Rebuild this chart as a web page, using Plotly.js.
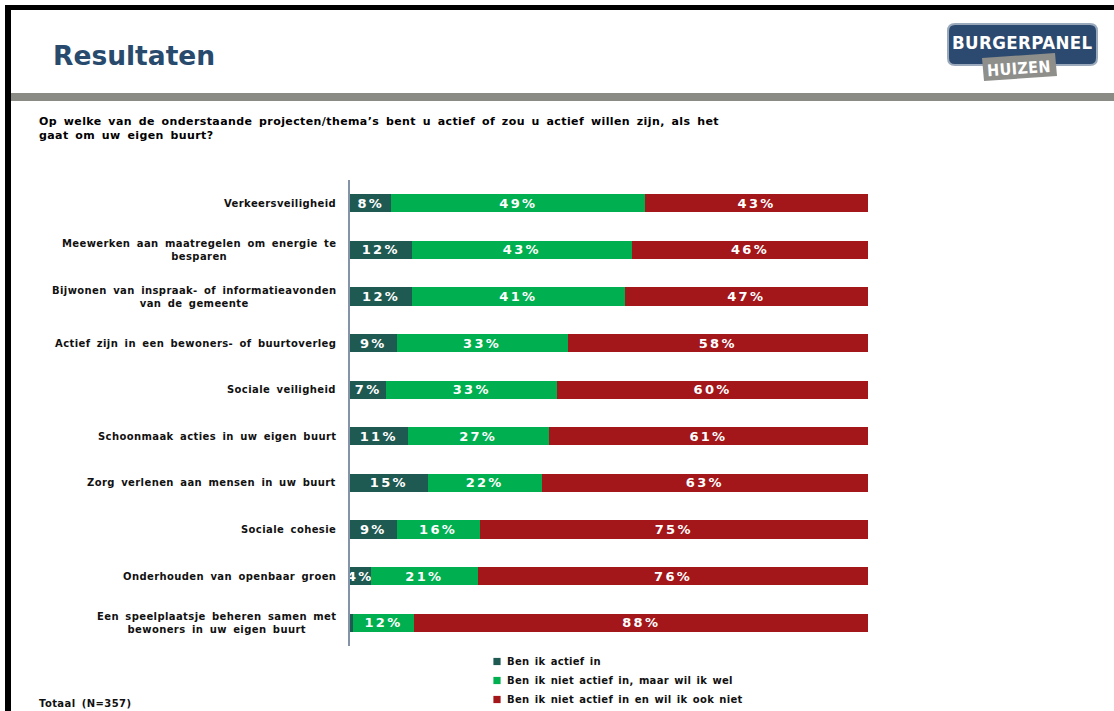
<!DOCTYPE html>
<html>
<head>
<meta charset="utf-8">
<script src="https://cdn.plot.ly/plotly-3.0.1.min.js"></script>
<style>
  html, body { margin: 0; padding: 0; background: #fff; }
  #chart { width: 1114px; height: 711px; }
  text.annotation-text { letter-spacing: 0.4px; word-spacing: 2.5px; }
  text.legendtext { letter-spacing: 0.3px; word-spacing: 1.5px; }
  text.bartext { letter-spacing: 2.3px; }
  .legendpoints path { transform: translate(30px, 0px) scale(0.6); }
</style>
</head>
<body>
<div id="chart"></div>
<script>
// ---- data ----
const categories = [
  'Verkeersveiligheid',
  'Meewerken aan maatregelen om energie te<br>besparen',
  'Bijwonen van inspraak- of informatieavonden<br>van de gemeente',
  'Actief zijn in een bewoners- of buurtoverleg',
  'Sociale veiligheid',
  'Schoonmaak acties in uw eigen buurt',
  'Zorg verlenen aan mensen in uw buurt',
  'Sociale cohesie',
  'Onderhouden van openbaar groen',
  'Een speelplaatsje beheren samen met<br>bewoners in uw eigen buurt'
];
const actief = [8, 12, 12, 9, 7, 11, 15, 9, 4, 0.5];
const welWillen = [49, 43, 41, 33, 33, 27, 22, 16, 21, 12];
const nietWillen = [43, 46, 47, 58, 60, 61, 63, 75, 76, 88];
const seriesNames = [
  'Ben ik actief in',
  'Ben ik niet actief in, maar wil ik wel',
  'Ben ik niet actief in en wil ik ook niet'
];
const seriesColors = ['#1f5a52', '#00b050', '#a3161a'];
const titleText = 'Resultaten';
const subtitleText = 'Op welke van de onderstaande projecten/thema’s bent u actief of zou u actief willen zijn, als het<br>gaat om uw eigen buurt?';
const footText = 'Totaal (N=357)';

// ---- layout helpers ----
const W = 1114, H = 711, ML = 350, MR = 246, MT = 180, MB = 65;
const PW = W - ML - MR, PH = H - MT - MB;
const fx = px => (px - ML) / PW;
const fy = py => (H - MB - py) / PH;
const FONT = 'DejaVu Sans, Verdana, sans-serif';
const NARROW = 'Liberation Sans Narrow, DejaVu Sans Condensed, Arial Narrow, sans-serif';

const labelOf = v => (v >= 1 ? v + '%' : '');

function mkTrace(vals, i) {
  return {
    type: 'bar', orientation: 'h',
    name: seriesNames[i],
    y: categories, x: vals,
    marker: { color: seriesColors[i], line: { width: 0 } },
    text: vals.map(labelOf),
    textposition: 'inside',
    insidetextanchor: 'middle',
    textangle: 0,
    constraintext: 'none',
    textfont: { family: FONT, size: 13, color: '#ffffff', weight: 700 },
    hoverinfo: 'skip'
  };
}
const data = [mkTrace(actief, 0), mkTrace(welWillen, 1), mkTrace(nietWillen, 2)];

function rrPath(x0, y0, x1, y1, r) {
  const P = (x, y) => fx(x) + ',' + fy(y);
  return 'M' + P(x0 + r, y0) + ' L' + P(x1 - r, y0) + ' Q' + P(x1, y0) + ' ' + P(x1, y0 + r) +
    ' L' + P(x1, y1 - r) + ' Q' + P(x1, y1) + ' ' + P(x1 - r, y1) +
    ' L' + P(x0 + r, y1) + ' Q' + P(x0, y1) + ' ' + P(x0, y1 - r) +
    ' L' + P(x0, y0 + r) + ' Q' + P(x0, y0) + ' ' + P(x0 + r, y0) + ' Z';
}
function polyPath(pts) {
  return 'M' + pts.map(p => fx(p[0]) + ',' + fy(p[1])).join(' L') + ' Z';
}
const pRect = (x0, y0, x1, y1, color) => ({
  type: 'rect', xref: 'paper', yref: 'paper',
  x0: fx(x0), x1: fx(x1), y0: fy(y1), y1: fy(y0),
  fillcolor: color, line: { width: 0 }, layer: 'above'
});

const shapes = [
  pRect(5, 5, 1114, 10, '#000000'),
  pRect(5, 5, 11, 711, '#000000'),
  pRect(11, 93, 1114, 101, '#8b8b85'),
  { type: 'path', xref: 'paper', yref: 'paper', path: rrPath(948, 24, 1097, 65, 7),
    fillcolor: '#2c4a6f', line: { color: '#9aa9bb', width: 2 }, layer: 'above' },
  { type: 'path', xref: 'paper', yref: 'paper',
    path: polyPath([[982, 58], [1055, 53], [1057, 76], [984, 81]]),
    fillcolor: '#8e8e8b', line: { width: 0 }, layer: 'above' }
];

const annotations = categories.map((c, i) => ({
  xref: 'paper', yref: 'y', x: 0, y: i, xanchor: 'right', yanchor: 'middle',
  xshift: -12, align: 'center', showarrow: false, text: c,
  font: { family: FONT, size: 10, color: '#111111', weight: 700 }
}));
annotations.push(
  { xref: 'paper', yref: 'paper', x: fx(37), y: fy(129), xanchor: 'left', yanchor: 'middle',
    align: 'left', showarrow: false, text: subtitleText,
    font: { family: FONT, size: 11, color: '#000000', weight: 700 } },
  { xref: 'paper', yref: 'paper', x: fx(37), y: fy(703), xanchor: 'left', yanchor: 'middle',
    align: 'left', showarrow: false, text: footText,
    font: { family: FONT, size: 10, color: '#111111', weight: 700 } },
  { xref: 'paper', yref: 'paper', x: fx(1022), y: fy(42), xanchor: 'center', yanchor: 'middle',
    showarrow: false, text: 'BURGERPANEL',
    font: { family: NARROW, size: 18.5, color: '#ffffff', weight: 700 } },
  { xref: 'paper', yref: 'paper', x: fx(1019), y: fy(68), xanchor: 'center', yanchor: 'middle',
    showarrow: false, text: 'HUIZEN', textangle: -4,
    font: { family: NARROW, size: 16, color: '#ffffff', weight: 700 } }
);

const layout = {
  width: W, height: H,
  margin: { l: ML, r: MR, t: MT, b: MB, pad: 0, autoexpand: false },
  paper_bgcolor: '#ffffff', plot_bgcolor: '#ffffff',
  barmode: 'stack', barnorm: 'percent', bargap: 0.61,
  showlegend: true,
  title: { text: titleText, x: 53 / W, xref: 'container', xanchor: 'left',
    y: 1 - 56 / H, yref: 'container', yanchor: 'middle',
    font: { family: FONT, size: 26.5, color: '#284a6d', weight: 700 } },
  xaxis: { range: [0, 100], showgrid: false, zeroline: false, showticklabels: false, showline: false, fixedrange: true },
  yaxis: { type: 'category', categoryarray: categories, categoryorder: 'array', autorange: 'reversed',
    showticklabels: false, showgrid: false, zeroline: false,
    showline: true, linecolor: '#8593a8', linewidth: 2, ticks: '' },
  legend: { x: fx(467), y: fy(647), xanchor: 'left', yanchor: 'top', orientation: 'v',
    traceorder: 'normal', bgcolor: 'rgba(0,0,0,0)', borderwidth: 0,
    font: { family: FONT, size: 10, color: '#111111', weight: 700 } },
  shapes: shapes,
  annotations: annotations
};

Plotly.newPlot('chart', data, layout, { displayModeBar: false, staticPlot: true });
</script>
</body>
</html>
